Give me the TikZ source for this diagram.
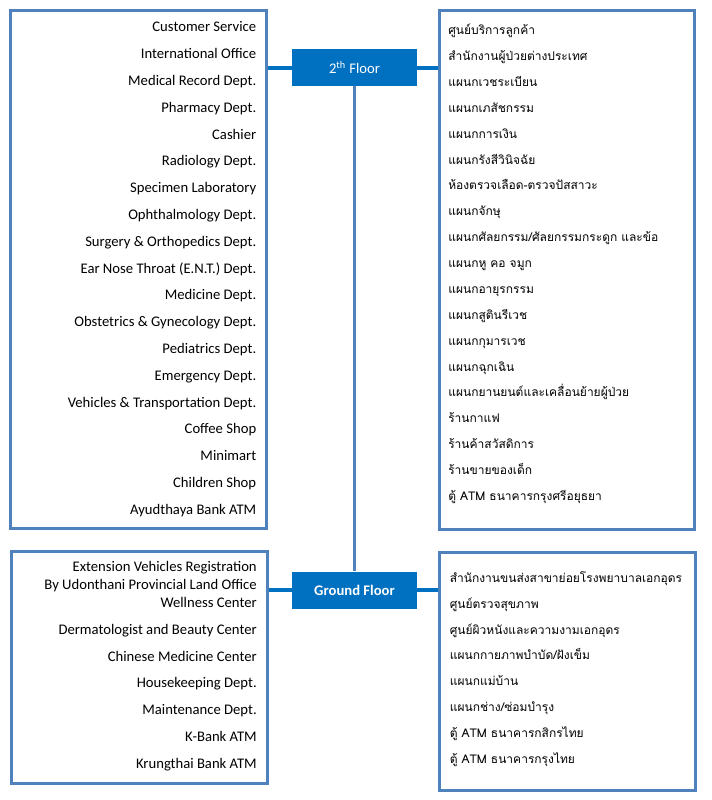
\documentclass[tikz,border=0pt]{standalone}
\usepackage{fontspec}
\setmainfont{Carlito}
\newfontfamily\thaifont[Script=Thai]{Loma}
\usepackage{xcolor}
\usepackage{tikz}
\usetikzlibrary{positioning, fit}
\definecolor{frameblue}{RGB}{79,129,189}
\definecolor{floorblue}{RGB}{0,112,192}

\begin{document}
\begin{tikzpicture}[x=0.75pt, y=-0.75pt]
\tikzstyle{listframe} = [rectangle, draw=frameblue, line width=2.25pt, inner sep=0pt]
\tikzstyle{floorbox} = [rectangle, minimum width=93.75pt, minimum height=27.75pt, text centered, fill=floorblue, text=white, font=\fontsize{11}{13}\selectfont]
\tikzstyle{entxt} = [align=right, anchor=north east, inner sep=0pt, font=\fontsize{11}{20.1}\selectfont]
\tikzstyle{thtxt} = [align=left, anchor=north west, inner sep=0pt, font=\thaifont\fontsize{9}{19.4}\selectfont]
\tikzstyle{vline} = [draw=frameblue, line width=2.5pt]
\tikzstyle{hline} = [draw=floorblue, line width=3pt]

\useasboundingbox (0,0) rectangle (711,800);

% Frames
\node (lt) [listframe, fit={(10,10) (266.5,528)}] {};
\node (rt) [listframe, fit={(439.5,10) (694.7,529)}] {};
\node (lb) [listframe, fit={(11,551.5) (267,783.5)}] {};
\node (rb) [listframe, fit={(439.5,552) (695,790.5)}] {};

% Floors
\node (flr2) [floorbox] at (354.5,67.5) {2\textsuperscript{th} Floor};
\node (gf) [floorbox, below=363.75pt of flr2, font=\bfseries\fontsize{11}{13}\selectfont] {Ground Floor};

% Second floor lists
\node (lttxt) [entxt] at (256.5,12.9) {\strut Customer Service\\ International Office\\ Medical Record Dept.\\ Pharmacy Dept.\\ Cashier\\ Radiology Dept.\\ Specimen Laboratory\\ Ophthalmology Dept.\\ Surgery \& Orthopedics Dept.\\ Ear Nose Throat (E.N.T.) Dept.\\ Medicine Dept.\\ Obstetrics \& Gynecology Dept.\\ Pediatrics Dept.\\ Emergency Dept.\\ Vehicles \& Transportation Dept.\\ Coffee Shop\\ Minimart\\ Children Shop\\ Ayudthaya Bank ATM};
\node (rttxt) [thtxt] at (448,16.4) {\strut ศูนย์บริการลูกค้า\\ สำนักงานผู้ป่วยต่างประเทศ\\ แผนกเวชระเบียน\\ แผนกเภสัชกรรม\\ แผนกการเงิน\\ แผนกรังสีวินิจฉัย\\ ห้องตรวจเลือด-ตรวจปัสสาวะ\\ แผนกจักษุ\\ แผนกศัลยกรรม/ศัลยกรรมกระดูก และข้อ\\ แผนกหู คอ จมูก\\ แผนกอายุรกรรม\\ แผนกสูตินรีเวช\\ แผนกกุมารเวช\\ แผนกฉุกเฉิน\\ แผนกยานยนต์และเคลื่อนย้ายผู้ป่วย\\ ร้านกาแฟ\\ ร้านค้าสวัสดิการ\\ ร้านขายของเด็ก\\ ตู้ ATM ธนาคารกรุงศรีอยุธยา};

% Ground floor lists
\node (lbreg) [entxt, font=\fontsize{11}{13.5}\selectfont] at (257,558.4) {\strut Extension Vehicles Registration\\ By Udonthani Provincial Land Office\\ Wellness Center};
\node (lbtxt) [entxt] at (257,615.3) {\strut Dermatologist and Beauty Center\\ Chinese Medicine Center\\ Housekeeping Dept.\\ Maintenance Dept.\\ K-Bank ATM\\ Krungthai Bank ATM};
\node (rbtxt) [thtxt] at (449.5,563.9) {\strut สำนักงานขนส่งสาขาย่อยโรงพยาบาลเอกอุดร\\ ศูนย์ตรวจสุขภาพ\\ ศูนย์ผิวหนังและความงามเอกอุดร\\ แผนกกายภาพบำบัด/ฝังเข็ม\\ แผนกแม่บ้าน\\ แผนกช่าง/ซ่อมบำรุง\\ ตู้ ATM ธนาคารกสิกรไทย\\ ตู้ ATM ธนาคารกรุงไทย};

% Connections
\draw [vline] (flr2) -- (gf);
\draw [hline] (flr2) -- (flr2 -| lt.east);
\draw [hline] (flr2) -- (flr2 -| rt.west);
\draw [hline] (gf) -- (gf -| lb.east);
\draw [hline] (gf) -- (gf -| rb.west);

\end{tikzpicture}
\end{document}
